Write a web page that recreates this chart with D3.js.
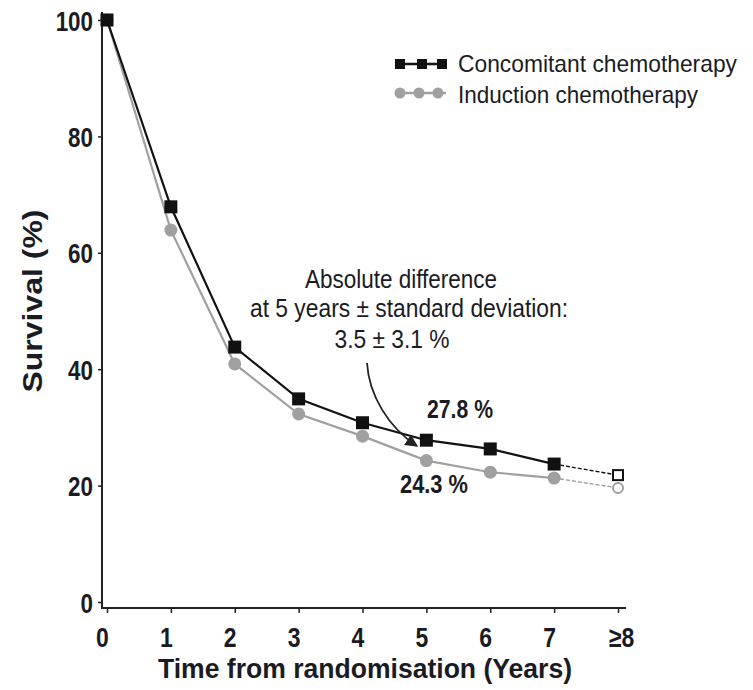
<!DOCTYPE html>
<html>
<head>
<meta charset="utf-8">
<script src="https://cdn.jsdelivr.net/npm/d3@7"></script>
<style>
  html, body { margin: 0; padding: 0; background: #fff; }
  svg text { font-family: "Liberation Sans", Arial, sans-serif; fill: #1b1b24; }
</style>
</head>
<body>
<svg id="chart" width="753" height="690"></svg>
<script>
// Survival by year since randomisation
const years = [0, 1, 2, 3, 4, 5, 6, 7, 8];
const xTickLabels = ["0", "1", "2", "3", "4", "5", "6", "7", "\u22658"];
const yTicks = [0, 20, 40, 60, 80, 100];
const concomitant = [100, 67.9, 43.8, 34.9, 30.8, 27.8, 26.3, 23.7, 21.8];
const induction = [100, 63.9, 40.9, 32.3, 28.5, 24.3, 22.3, 21.3, 19.6];
const seriesNames = ["Concomitant chemotherapy", "Induction chemotherapy"];
const fiveYearLabels = ["27.8 %", "24.3 %"];
const noteLines = ["Absolute difference", "at 5 years \u00b1 standard deviation:", "3.5 \u00b1 3.1 %"];

const svg = d3.select("#chart");
const black = "#111", grey = "#a0a0a0";

const x = d3.scaleLinear().domain([0, 8]).range([107, 618]);
const y = d3.scaleLinear().domain([0, 100]).range([602, 20]);

// narrow the lettering horizontally (condensed face)
function squeeze(sel, factor) {
  sel.each(function () {
    const w = this.getComputedTextLength();
    d3.select(this).attr("textLength", w * factor).attr("lengthAdjust", "spacingAndGlyphs");
  });
}
function fitWidth(sel, w) {
  sel.attr("textLength", w).attr("lengthAdjust", "spacingAndGlyphs");
}

// Y axis
const yAxis = svg.append("g").attr("transform", "translate(102,0)")
  .call(d3.axisLeft(y).tickValues(yTicks).tickSize(4).tickPadding(5));
yAxis.select(".domain").attr("d", "M0,12V608").attr("stroke", "#222").attr("stroke-width", 2);
yAxis.selectAll(".tick line").attr("stroke", "#222").attr("stroke-width", 1.5);
yAxis.selectAll(".tick text").attr("font-size", 28).attr("font-weight", "bold").attr("dy", "0.36em")
  .call(squeeze, 0.8);

// X axis, set slightly below zero
const xAxis = svg.append("g").attr("transform", "translate(0,608)")
  .call(d3.axisBottom(x).tickValues(years).tickFormat((d, i) => xTickLabels[i]).tickSize(5).tickPadding(14));
xAxis.select(".domain").attr("d", "M101,0H626").attr("stroke", "#222").attr("stroke-width", 2);
xAxis.selectAll(".tick line").attr("stroke", "#222").attr("stroke-width", 1.5);
xAxis.selectAll(".tick text").attr("font-size", 28).attr("font-weight", "bold").attr("dy", "0.71em")
  .attr("dx", (d, i) => i === 8 ? 3 : -5)
  .call(squeeze, 0.82);

// Axis titles
svg.append("text").attr("x", 365).attr("y", 678).attr("text-anchor", "middle")
  .attr("font-size", 28).attr("font-weight", "bold").text("Time from randomisation (Years)")
  .call(fitWidth, 414);
svg.append("text").attr("transform", "translate(42,301) rotate(-90)").attr("text-anchor", "middle")
  .attr("font-size", 27).attr("font-weight", "bold").text("Survival (%)")
  .call(fitWidth, 183);

const line = d3.line().x((d, i) => x(years[i])).y(d => y(d));

function drawSeries(vals, color, shape) {
  svg.append("path").datum(vals.slice(0, 8)).attr("d", line).attr("fill", "none")
    .attr("stroke", color).attr("stroke-width", 2.2);
  // final interval drawn dashed
  svg.append("path").attr("d", `M${x(7)},${y(vals[7])}L${x(8)},${y(vals[8])}`)
    .attr("fill", "none").attr("stroke", color).attr("stroke-width", 1.4).attr("stroke-dasharray", "4,2");
  vals.forEach((v, i) => {
    const hollow = i === 8;
    if (shape === "square") {
      const s = hollow ? 10 : 13;
      svg.append("rect").attr("x", x(years[i]) - s / 2).attr("y", y(v) - s / 2).attr("width", s).attr("height", s)
        .attr("fill", hollow ? "#fff" : color).attr("stroke", color).attr("stroke-width", hollow ? 2 : 0);
    } else {
      svg.append("circle").attr("cx", x(years[i])).attr("cy", y(v)).attr("r", hollow ? 5 : 6.5)
        .attr("fill", hollow ? "#fff" : color).attr("stroke", color).attr("stroke-width", hollow ? 2 : 0);
    }
  });
}
drawSeries(induction, grey, "circle");
drawSeries(concomitant, black, "square");

// Legend
const legend = [[black, "square", 64, 72, 279], [grey, "circle", 93, 103, 240]];
legend.forEach(([c, s, ly, base, w], k) => {
  svg.append("line").attr("x1", 395).attr("x2", 446).attr("y1", ly).attr("y2", ly)
    .attr("stroke", c).attr("stroke-width", 2.5);
  (s === "square" ? [400, 422, 442] : [400, 419, 438]).forEach(lx => {
    if (s === "square") svg.append("rect").attr("x", lx - 5).attr("y", ly - 5).attr("width", 10).attr("height", 10).attr("fill", c);
    else svg.append("circle").attr("cx", lx).attr("cy", ly).attr("r", 5.5).attr("fill", c);
  });
  svg.append("text").attr("x", 458).attr("y", base).attr("font-size", 24).text(seriesNames[k])
    .call(fitWidth, w);
});

// Five-year value labels
svg.append("text").attr("x", 460).attr("y", 418).attr("text-anchor", "middle")
  .attr("font-size", 25).attr("font-weight", "bold").text(fiveYearLabels[0]).call(fitWidth, 66);
svg.append("text").attr("x", 434).attr("y", 493).attr("text-anchor", "middle")
  .attr("font-size", 25).attr("font-weight", "bold").text(fiveYearLabels[1]).call(fitWidth, 68);

// Annotation on the 5-year gap
const notePos = [[401, 288, 192], [409, 317, 318], [392, 348, 115]];
noteLines.forEach((t, i) => {
  const [cx, by, w] = notePos[i];
  svg.append("text").attr("x", cx).attr("y", by).attr("text-anchor", "middle")
    .attr("font-size", 25).text(t).call(fitWidth, w);
});
svg.append("defs").append("marker").attr("id", "arr").attr("viewBox", "0 0 10 10")
  .attr("refX", 9).attr("refY", 5).attr("markerWidth", 7).attr("markerHeight", 7).attr("orient", "auto")
  .attr("markerUnits", "strokeWidth")
  .append("path").attr("d", "M0,0L10,5L0,10z").attr("fill", "#222");
svg.append("path").attr("d", "M367,363 C369,395 388,427 417,446")
  .attr("fill", "none").attr("stroke", "#222").attr("stroke-width", 1.8).attr("marker-end", "url(#arr)");
</script>
</body>
</html>
